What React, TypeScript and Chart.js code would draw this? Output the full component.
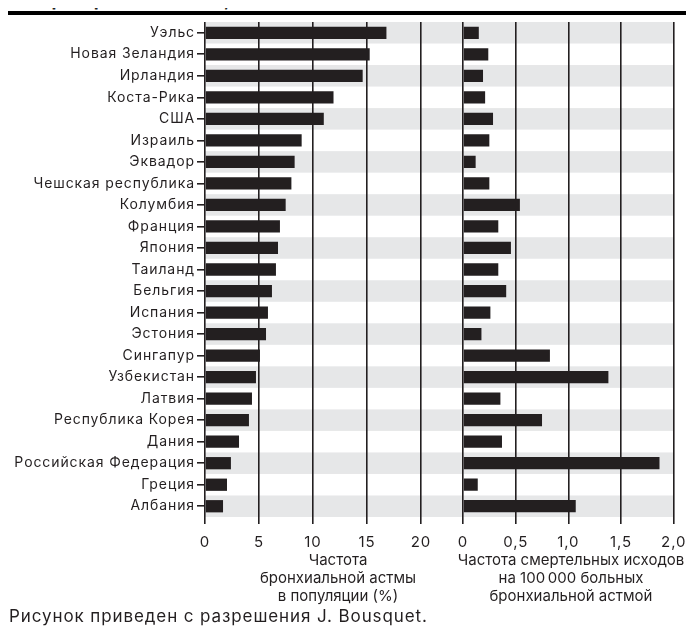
import React, { useEffect, useRef } from "react";
import { Chart, registerables } from "chart.js";

Chart.register(...registerables);

const countries = [
  "Уэльс",
  "Новая Зеландия",
  "Ирландия",
  "Коста-Рика",
  "США",
  "Израиль",
  "Эквадор",
  "Чешская республика",
  "Колумбия",
  "Франция",
  "Япония",
  "Таиланд",
  "Бельгия",
  "Испания",
  "Эстония",
  "Сингапур",
  "Узбекистан",
  "Латвия",
  "Республика Корея",
  "Дания",
  "Российская Федерация",
  "Греция",
  "Албания",
];

// Prevalence of bronchial asthma in population (%)
const prevalence = [
  16.8, 15.25, 14.6, 11.9, 11.0, 8.95, 8.3, 8.0, 7.47, 6.94, 6.76, 6.57, 6.2,
  5.83, 5.65, 5.09, 4.72, 4.35, 4.07, 3.15, 2.4, 2.04, 1.67,
];

// Deaths per 100 000 asthma patients
const mortality = [
  0.15, 0.24, 0.19, 0.21, 0.285, 0.25, 0.12, 0.25, 0.54, 0.335, 0.455, 0.335,
  0.41, 0.26, 0.175, 0.825, 1.38, 0.355, 0.75, 0.37, 1.865, 0.14, 1.07,
];

const leftTickValues = [0, 5, 10, 15, 20];
const leftTickLabels = ["0", "5", "10", "15", "20"];
const rightTickValues = [0, 0.5, 1.0, 1.5, 2.0];
const rightTickLabels = ["0", "0,5", "1,0", "1,5", "2,0"];

const leftTitle = ["Частота", "бронхиальной астмы", "в популяции (%)"];
const rightTitle = ["Частота смертельных исходов", "на 100\u2009000 больных", "бронхиальной астмой"];
const footer = "Рисунок приведен с разрешения J. Bousquet.";
const header = "Распространенность [9,10]";

const FONT = 'Inter, "Liberation Sans", Arial, sans-serif';
const INK = "#231f20";
const BAND = "#e6e7e8";
const W = 694;
const H = 641;

const bandsPlugin = {
  id: "bands",
  beforeDraw(chart: any) {
    const { ctx, chartArea, scales } = chart;
    const y = scales.y;
    const n = chart.data.labels.length;
    const pitch = (chartArea.bottom - chartArea.top) / n;
    ctx.save();
    ctx.fillStyle = BAND;
    for (let i = 0; i < n; i += 2) {
      const c = y.getPixelForValue(i);
      ctx.fillRect(chartArea.left, c - pitch / 2, chartArea.right - chartArea.left, pitch);
    }
    ctx.restore();
    (ctx as any).letterSpacing = "0.9px";
  },
  afterDraw(chart: any) {
    (chart.ctx as any).letterSpacing = "0px";
  },
};

function makeConfig(values: number[], side: "left" | "right"): any {
  const isLeft = side === "left";
  const tickVals = isLeft ? leftTickValues : rightTickValues;
  const tickLabs = isLeft ? leftTickLabels : rightTickLabels;
  return {
    type: "bar",
    data: {
      labels: countries,
      datasets: [
        {
          data: values,
          backgroundColor: INK,
          borderWidth: 0,
          barPercentage: 0.57,
          categoryPercentage: 1,
        },
      ],
    },
    options: {
      indexAxis: "y",
      responsive: false,
      animation: false,
      events: [],
      layout: {
        padding: isLeft
          ? { left: 0, right: W - 463, top: 22, bottom: 84 }
          : { left: 463, right: W - 678, top: 22, bottom: 84 },
      },
      plugins: { legend: { display: false }, tooltip: { enabled: false }, title: { display: false } },
      scales: {
        x: {
          min: 0,
          max: isLeft ? 23.89 : 2.0,
          afterBuildTicks: (scale: any) => {
            scale.ticks = tickVals.map((v) => ({ value: v }));
          },
          ticks: {
            includeBounds: false,
            maxRotation: 0,
            autoSkip: false,
            color: INK,
            padding: 9,
            font: { family: FONT, size: 15 },
            callback: (v: number) => {
              const i = tickVals.indexOf(Number(v));
              return i >= 0 ? tickLabs[i] : "";
            },
          },
          grid: { color: INK, lineWidth: 1.6, tickLength: 7, drawTicks: true },
          border: { display: false },
          afterFit: (s: any) => {
            s.height = 40;
          },
        },
        y: {
          display: isLeft,
          ticks: {
            autoSkip: false,
            color: INK,
            padding: 2,
            font: { family: FONT, size: 14 },
          },
          grid: { drawOnChartArea: false, offset: false, tickLength: 8, color: INK, lineWidth: 1.6 },
          border: { display: false },
          afterFit: (s: any) => {
            if (isLeft) s.width = 205;
          },
        },
      },
    },
    plugins: [bandsPlugin],
  };
}

function BarChart({ values, side }: { values: number[]; side: "left" | "right" }) {
  const ref = useRef<HTMLCanvasElement | null>(null);
  useEffect(() => {
    if (!ref.current) return;
    const chart = new Chart(ref.current, makeConfig(values, side));
    return () => chart.destroy();
  }, [values, side]);
  return (
    <canvas
      ref={ref}
      width={W}
      height={H}
      style={{ position: "absolute", left: 0, top: 0, width: W, height: H }}
    />
  );
}

const titleStyle: React.CSSProperties = {
  position: "absolute",
  top: 550.5,
  width: 260,
  textAlign: "center",
  fontFamily: FONT,
  fontSize: 15,
  lineHeight: "18px",
  color: INK,
  whiteSpace: "nowrap",
};

export default function App() {
  return (
    <div
      style={{
        position: "relative",
        margin: -8,
        width: W,
        height: H,
        overflow: "hidden",
        background: "#fff",
      }}
    >
      <div
        style={{
          position: "absolute",
          left: 8,
          top: -10,
          fontFamily: FONT,
          fontWeight: 700,
          fontSize: 18,
          lineHeight: "20px",
          color: INK,
          whiteSpace: "nowrap",
        }}
      >
        {header}
      </div>
      <div style={{ position: "absolute", left: 0, top: 11, width: W, height: 4, background: "#000" }} />
      <div style={{ position: "absolute", left: 0, top: 0, width: 3, height: H, background: "#000" }} />
      <BarChart values={prevalence} side="left" />
      <BarChart values={mortality} side="right" />
      <div style={{ ...titleStyle, left: 338 - 130 }}>
        {leftTitle.map((t, i) => (
          <div key={i}>{t}</div>
        ))}
      </div>
      <div style={{ ...titleStyle, left: 571 - 130 }}>
        {rightTitle.map((t, i) => (
          <div key={i}>{t}</div>
        ))}
      </div>
      <div
        style={{
          position: "absolute",
          left: 9,
          top: 606,
          fontFamily: FONT,
          fontSize: 17,
          letterSpacing: "0.9px",
          lineHeight: "20px",
          color: INK,
          whiteSpace: "nowrap",
        }}
      >
        {footer}
      </div>
    </div>
  );
}
